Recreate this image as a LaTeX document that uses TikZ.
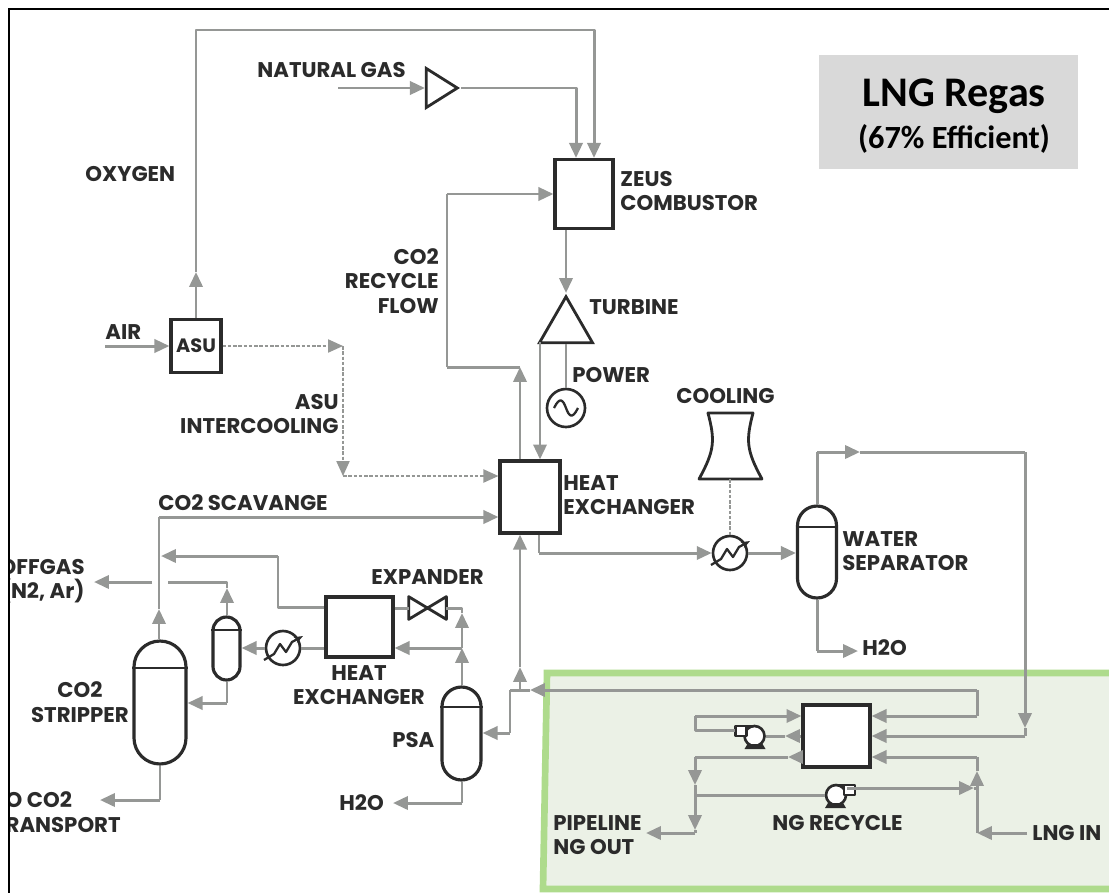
\documentclass[tikz,border=0pt]{standalone}
\usepackage{fontspec}
\setmainfont{Poppins}
\newfontfamily\notefont{Carlito}
\usetikzlibrary{arrows.meta,calc,positioning,shapes.geometric}

\definecolor{pipegray}{HTML}{959795}
\definecolor{inkgray}{HTML}{2B2B2B}
\definecolor{greenedge}{HTML}{AEDB8C}
\definecolor{greenfill}{HTML}{EBF1E6}
\definecolor{notegray}{HTML}{D9D9D9}

\tikzset{
  pipe/.style={draw=pipegray,line width=1.7pt,line join=round},
  arrow/.style={pipe,-{Triangle[length=8.5pt,width=7.5pt]}},
  signal/.style={draw=pipegray,line width=0.8pt,dash pattern=on 2pt off 1pt},
  sigarrow/.style={signal,-{Triangle[length=8.5pt,width=7.5pt,fill=pipegray]}},
  unit/.style={rectangle,draw=inkgray,line width=1.8pt,fill=white,inner sep=0pt},
  vessel/.style={unit},
  ring/.style={circle,draw=inkgray,line width=1.5pt,fill=white,inner sep=0pt},
  tag/.style={font=\bfseries\fontsize{12.1}{14}\selectfont,text=inkgray,inner sep=0pt,align=center},
  outline/.style={draw=inkgray,line width=1.6pt,line join=round}
}

\begin{document}
\begin{tikzpicture}[x=0.02cm,y=-0.02cm]
\useasboundingbox (0,0) rectangle (1109,893);

% green block round the regas exchanger
\fill[greenfill] (547,673) -- (1109,673) -- (1109,889) -- (543,889) -- cycle;
\draw[greenedge,line width=3.8pt] (1109,673) -- (547,673) -- (543,889) -- (1109,889);

% equipment
\node[unit,minimum width=1.0cm,minimum height=1.06cm] (asu) at (196,346) {};
\node[unit,minimum width=1.16cm,minimum height=1.38cm] (combustor) at (584,194) {};
\node[unit,minimum width=1.2cm,minimum height=1.44cm] (hxmain) at (530,497) {};
\node[unit,minimum width=1.34cm,minimum height=1.2cm] (hxlow) at (359.5,627) {};
\node[unit,minimum width=1.34cm,minimum height=1.24cm] (hxregas) at (836.5,736) {};
\node[isosceles triangle,isosceles triangle stretches,shape border rotate=0,draw=inkgray,line width=1.6pt,
      fill=white,inner sep=0pt,minimum width=0.78cm,minimum height=0.62cm,anchor=apex] (compressor) at (461,88) {};
\node[isosceles triangle,isosceles triangle stretches,shape border rotate=90,draw=inkgray,line width=1.6pt,
      fill=white,inner sep=0pt,minimum width=1.06cm,minimum height=0.92cm,anchor=apex] (turbine) at (566,293) {};
\node[ring,minimum size=0.76cm] (generator) at (566,408) {};
\draw[outline,line width=1.3pt] (554,408) .. controls (560,396) and (563,400) .. (566,408)
  .. controls (569,416) and (572,420) .. (578,408);

\node[vessel,rounded corners=0.52cm,minimum width=1.04cm,minimum height=2.46cm] (stripper) at (160,702.5) {};
\node[vessel,rounded corners=0.27cm,minimum width=0.54cm,minimum height=1.26cm] (knockout) at (226.5,648.5) {};
\node[vessel,rounded corners=0.39cm,minimum width=0.78cm,minimum height=1.86cm] (psa) at (461.5,733.5) {};
\node[vessel,rounded corners=0.39cm,minimum width=0.78cm,minimum height=1.84cm] (separator) at (817,552) {};
\draw[outline] (stripper.west |- 0,668) -- (stripper.east |- 0,668);
\draw[outline] (knockout.west |- 0,630) -- (knockout.east |- 0,630);
\draw[outline] (psa.west |- 0,707) -- (psa.east |- 0,707);
\draw[outline] (separator.west |- 0,527) -- (separator.east |- 0,527);

\node[ring,minimum size=0.68cm] (coolerlow) at (283,648) {};
\node[ring,minimum size=0.68cm] (coolerhigh) at (730,553) {};
\foreach \n in {coolerlow,coolerhigh}
  \draw[outline,line width=1.3pt,-{Stealth[length=5pt]}] ([shift={(-19,12)}]\n.center)
    -- ([shift={(-9,6)}]\n.center) -- ([shift={(-3,-4)}]\n.center) -- ([shift={(3,4)}]\n.center)
    -- ([shift={(9,-6)}]\n.center) -- ([shift={(20,-12)}]\n.center);

\node[inner sep=0pt,minimum width=0.74cm,minimum height=0.44cm] (expander) at (427.5,608) {};
\draw[outline] (expander.north west) -- (expander.south east) -- (expander.north east)
  -- (expander.south west) -- cycle;

\coordinate (towerbase) at (730,479);
\draw[outline] (708,413) -- (753,413) .. controls (746,440) and (746,450) .. (762,479)
  -- (699,479) .. controls (715,450) and (715,440) .. (708,413) -- cycle;

\node[ring,minimum size=0.4cm] (pumpseal) at (754.5,736) {};
\node[ring,minimum size=0.4cm] (pumpng) at (836,795) {};
\foreach \n/\s in {pumpseal/1,pumpng/-1}{
  \begin{scope}[shift={(\n.center)},xscale=\s]
    \draw[outline,fill=white] (-19,-10) rectangle (-8,0);
    \draw[outline,fill=white] (-19,-10) -- (-3,-10);
    \fill[inkgray] (-10,13) -- (11,13) -- (8,8) -- (-7,8) -- cycle;
  \end{scope}
}

% junctions
\coordinate (airin) at (105,346);
\coordinate (oxyup) at (196,272);
\coordinate (oxya) at (196,30);
\coordinate (oxyb) at (594,30);
\coordinate (gasin) at (338,88);
\coordinate (gasa) at (576,88);
\coordinate (recyclea) at (520,367);
\coordinate (recycleb) at (447,367);
\coordinate (recyclec) at (447,194);
\coordinate (turbout) at (540,342);
\coordinate (teemain) at (520,690);
\coordinate (teeup) at (520,667);
\coordinate (intera) at (343,346);
\coordinate (interb) at (343,476);
\coordinate (interup) at (343,466);
\coordinate (scava) at (159,517);
\coordinate (scavup) at (159,609);
\coordinate (vaporb) at (278,607);
\coordinate (vaporc) at (278,556);
\coordinate (vapord) at (161,556);
\coordinate (offl) at (94,582);
\coordinate (offm) at (152,582);
\coordinate (offn) at (168,582);
\coordinate (offo) at (227,582);
\coordinate (offup) at (227,588);
\coordinate (drainkn) at (227,703);
\coordinate (valveb) at (462,608);
\coordinate (psaupb) at (462,613);
\coordinate (psatee) at (462,648);
\coordinate (psaa) at (510,690);
\coordinate (psab) at (510,733);
\coordinate (psadrain) at (462,803);
\coordinate (psaend) at (393,803);
\coordinate (stripdrain) at (160,800);
\coordinate (stripend) at (100,800);
\coordinate (exita) at (539,553);
\coordinate (sepa) at (817,452);
\coordinate (sepb) at (1025,452);
\coordinate (sepmid) at (860,452);
\coordinate (sepc) at (1025,736);
\coordinate (sepup) at (1025,728);
\coordinate (sepd) at (817,651);
\coordinate (sepe) at (858,651);
\coordinate (returna) at (977,690);
\coordinate (returnb) at (977,716);
\coordinate (returntip) at (530,690);
\coordinate (sealb) at (695,716);
\coordinate (sealc) at (695,730);
\coordinate (sealin) at (735,730);
\coordinate (sealtip) at (785,736);
\coordinate (outa) at (695,757);
\coordinate (outtip) at (788,757);
\coordinate (outb) at (695,833);
\coordinate (outup) at (695,785);
\coordinate (outtee) at (695,795);
\coordinate (outup2) at (695,830);
\coordinate (outend) at (646,833);
\coordinate (lnga) at (977,833);
\coordinate (lngb) at (977,757);
\coordinate (lngup) at (977,771);
\coordinate (lngtee) at (977,788);
\coordinate (lngin) at (1027,833);
\coordinate (pumpoutb) at (974,788);

% connectors
\draw[arrow] (airin) -- (asu.west);
\draw[arrow] (asu.north -| oxyup) -- (oxyup);
\draw[pipe] (oxyup) -- (oxya) -- (oxyb) -- ($(combustor.north -| oxyb)+(0,-30)$);
\draw[arrow] ($(combustor.north -| oxyb)+(0,-30)$) -- (combustor.north -| oxyb);
\draw[arrow] (gasin) -- (compressor.west |- gasin);
\draw[pipe] (compressor.apex) -- (gasa) -- ($(combustor.north -| gasa)+(0,-30)$);
\draw[arrow] ($(combustor.north -| gasa)+(0,-30)$) -- (combustor.north -| gasa);
\draw[arrow] (recyclec) -- (combustor.west |- recyclec);
\draw[pipe] (recycleb) -- (recyclec);
\draw[pipe] (recyclea) -- (recycleb);
\draw[arrow] (hxmain.north -| recyclea) -- (recyclea);
\draw[arrow] (combustor.south -| turbine.apex) -- (turbine.apex);
\draw[pipe] (turbine.south) -- (generator.north);
\draw[arrow] (turbout) -- (hxmain.north -| turbout);

\draw[sigarrow] (asu.east) -- (intera);
\draw[signal] (intera) -- (interup);
\draw[sigarrow] (intera) -- (interb);
\draw[sigarrow] (interb) -- (hxmain.west |- interb);
\draw[arrow] (scava) -- (hxmain.west |- scava);
\draw[pipe] (scava) -- (scavup);
\draw[arrow] (stripper.north -| scavup) -- (scavup);
\draw[pipe] (hxlow.west |- vaporb) -- (vaporb) -- (vaporc);
\draw[arrow] (vaporc) -- (vapord);
\draw[arrow] (offm) -- (offl);
\draw[pipe] (offn) -- (offo) -- (offup);
\draw[arrow] (knockout.north -| offup) -- (offup);
\draw[pipe] (knockout.south -| drainkn) -- (drainkn);
\draw[arrow] (drainkn) -- (stripper.east |- drainkn);
\draw[arrow] (coolerlow.west) -- (knockout.east |- coolerlow);
\draw[pipe] (hxlow.west |- coolerlow) -- (coolerlow.east);
\draw[pipe] (hxlow.east |- expander) -- (expander.west);
\draw[pipe] (expander.east) -- (valveb) -- (psaupb);
\draw[arrow] (psatee) -- (psaupb);
\draw[arrow] (psa.north -| psatee) -- (psatee);
\draw[arrow] (psatee) -- (hxlow.east |- psatee);
\draw[arrow] (teemain) -- (teeup);
\draw[arrow] (teeup) -- (hxmain.south -| teeup);
\draw[pipe] (psaa) -- (teemain);
\draw[pipe] (psaa) -- (psab);
\draw[arrow] (psab) -- (psa.east |- psab);
\draw[pipe] (psa.south -| psadrain) -- (psadrain);
\draw[arrow] (psadrain) -- (psaend);
\draw[pipe] (stripper.south) -- (stripdrain);
\draw[arrow] (stripdrain) -- (stripend);
\draw[pipe] (hxmain.south -| exita) -- (exita);
\draw[arrow] (exita) -- (coolerhigh.west);
\draw[arrow] (coolerhigh.east) -- (separator.west |- coolerhigh);
\draw[signal] (towerbase) -- (coolerhigh.north);
\draw[pipe] (separator.north -| sepa) -- (sepa);
\draw[arrow] (sepa) -- (sepmid);
\draw[pipe] (sepmid) -- (sepb);
\draw[arrow] (sepb) -- (sepup);
\draw[arrow] (sepc) -- (hxregas.east |- sepc);
\draw[pipe] (sepup) -- (sepc);
\draw[pipe] (separator.south -| sepd) -- (sepd);
\draw[arrow] (sepd) -- (sepe);

\draw[arrow] (returna) -- (returntip);
\draw[pipe] (returntip) -- (teemain);
\draw[pipe] (returna) -- (returnb);
\draw[arrow] (returnb) -- (hxregas.east |- returnb);
\draw[arrow] (sealb) -- (hxregas.west |- sealb);
\draw[pipe] (sealb) -- (sealc) -- (sealin);
\draw[arrow] (hxregas.west |- sealtip) -- (sealtip);
\draw[pipe] (sealtip) -- (pumpseal.east);
\draw[arrow] (hxregas.west |- outa) -- (outtip);
\draw[pipe] (outtip) -- (outa);
\draw[arrow] (outa) -- (outup);
\draw[arrow] (outup) -- (outup2);
\draw[pipe] (outup2) -- (outb);
\draw[arrow] (outb) -- (outend);
\draw[pipe] (outtee) -- (pumpng.west);
\draw[arrow] (pumpng.east |- lngtee) -- (pumpoutb);
\draw[pipe] (pumpoutb) -- (lngtee);
\draw[arrow] (lngin) -- (lnga);
\draw[arrow] (lnga) -- (lngup);
\draw[pipe] (lngup) -- (lngb);
\draw[arrow] (lngb) -- (hxregas.east |- lngb);

% labels, the left ones cut off by the frame
\begin{scope}
\clip (9,0) rectangle (1109,893);
\node[tag,align=right,anchor=east] (offgaslabel) at (85,581) {OFFGAS\\(N2, Ar)};
\node[tag,align=left,anchor=east] (transportlabel) at (121,812) {TO CO2\\TRANSPORT};
\end{scope}
\node[tag,anchor=west] (naturalgaslabel) at (257,70) {NATURAL GAS};
\node[tag,anchor=west] (oxygenlabel) at (85,174) {OXYGEN};
\node[tag,align=right,anchor=east] (recyclelabel) at (439,281) {CO2\\RECYCLE\\FLOW};
\node[tag,align=left,anchor=west] (zeuslabel) at (620,191) {ZEUS\\COMBUSTOR};
\node[tag,anchor=west] (turbinelabel) at (589,307) {TURBINE};
\node[tag,anchor=west] (powerlabel) at (572,375) {POWER};
\node[tag,anchor=west] (coolinglabel) at (676,396) {COOLING};
\node[tag,anchor=west] (airlabel) at (105,332) {AIR};
\node[tag,font=\bfseries\fontsize{11}{12}\selectfont] (asutext) at (asu) {ASU};
\node[tag,align=right,anchor=east] (intercoollabel) at (339,414) {ASU\\INTERCOOLING};
\node[tag,align=left,anchor=west] (hxmainlabel) at (563,495) {HEAT\\EXCHANGER};
\node[tag,anchor=west] (scavangelabel) at (158,503) {CO2 SCAVANGE};
\node[tag,anchor=west] (expanderlabel) at (371,577) {EXPANDER};
\node[tag,align=center] (hxlowlabel) at (359,685) {HEAT\\EXCHANGER};
\node[tag,align=center] (stripperlabel) at (80,702) {CO2\\STRIPPER};
\node[tag,anchor=west] (psalabel) at (392,740) {PSA};
\node[tag,anchor=west] (lowdrainlabel) at (339,803) {H2O};
\node[tag,align=left,anchor=west] (separatorlabel) at (842,551) {WATER\\SEPARATOR};
\node[tag,anchor=west] (highdrainlabel) at (862,648) {H2O};
\node[tag,align=left,anchor=west] (pipelinelabel) at (553,835) {PIPELINE\\NG OUT};
\node[tag,anchor=west] (recyclenglabel) at (772,823) {NG RECYCLE};
\node[tag,anchor=west] (lnginlabel) at (1032,833) {LNG IN};

% efficiency note
\node[fill=notegray,minimum width=5.18cm,minimum height=2.28cm,inner sep=0pt] (note) at (948.5,112) {};
\node[inner sep=0pt,align=center] (notetext) at (954,116)
{\notefont\bfseries\fontsize{24}{26}\selectfont LNG Regas\\[5pt]
 \notefont\bfseries\fontsize{18.4}{23}\selectfont (67\% Efficient)};

% frame, top and left only
\coordinate (frametop) at (1109,9);
\coordinate (framecorner) at (9,9);
\coordinate (framefoot) at (9,893);
\draw[black,line width=1.3pt] (frametop) -- (framecorner) -- (framefoot);
\end{tikzpicture}
\end{document}
